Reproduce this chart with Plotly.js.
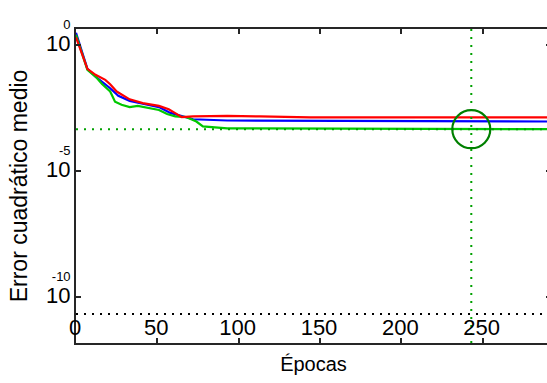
<!DOCTYPE html>
<html>
<head>
<meta charset="utf-8">
<script src="https://cdn.plot.ly/plotly-3.0.1.min.js"></script>
<style>
html,body{margin:0;padding:0;overflow:hidden;background:#fff;width:547px;height:383px;}
#chart{width:562px;height:383px;}
</style>
</head>
<body>
<div id="chart"></div>
<script>
// Training (blue)
const trainEpochs = [0, 7, 12, 21, 26, 33, 41, 51, 58, 65, 72, 93, 292];
const trainMSE    = [3.0, 0.112, 0.055, 0.019, 0.0095, 0.006, 0.0046, 0.0034, 0.002, 0.00145, 0.00112, 0.001, 0.00091];
// Validation (green)
const valEpochs = [0, 7, 12, 16, 21, 24, 28, 33, 38, 45, 51, 56, 61, 68, 74, 78, 93, 292];
const valMSE    = [2.5, 0.102, 0.055, 0.028, 0.0141, 0.0056, 0.0042, 0.0034, 0.0038, 0.0032, 0.0026, 0.0018, 0.00145, 0.00135, 0.00091, 0.00058, 0.00049, 0.00045];
// Test (red)
const testEpochs = [0, 7, 12, 18, 21, 25, 33, 41, 51, 57, 61, 65, 72, 93, 113, 144, 292];
const testMSE    = [2.0, 0.112, 0.065, 0.041, 0.0275, 0.0141, 0.0069, 0.0049, 0.0038, 0.0028, 0.00195, 0.00135, 0.00145, 0.00151, 0.00145, 0.00132, 0.00132];
// Best validation and goal
const bestEpoch = 243;
const bestMSE = 0.00045;
const goalMSE = 2.1e-11;
const xRange = [0, 292];
const yRangeLog = [-11.83, 0.63];
const yTickVals = [1e-10, 1e-5, 1];
const yTickExp = ['-10', '-5', '0'];
const xTickVals = [0, 50, 100, 150, 200, 250];

const traces = [
  {x: trainEpochs, y: trainMSE, mode: 'lines', line: {color: '#0000ff', width: 2.2}, hoverinfo: 'none'},
  {x: valEpochs, y: valMSE, mode: 'lines', line: {color: '#00c800', width: 2.2}, hoverinfo: 'none'},
  {x: testEpochs, y: testMSE, mode: 'lines', line: {color: '#ff0000', width: 2.2}, hoverinfo: 'none'},
  {x: xRange, y: [goalMSE, goalMSE], mode: 'lines', line: {color: '#000000', width: 2, dash: '2px,6px'}, hoverinfo: 'none'},
  {x: [xRange[0], xRange[1]], y: [bestMSE, bestMSE], mode: 'lines', line: {color: '#00a000', width: 2, dash: '2px,6px'}, hoverinfo: 'none'},
  {x: [bestEpoch, bestEpoch], y: [Math.pow(10, yRangeLog[0]), Math.pow(10, yRangeLog[1])], mode: 'lines', line: {color: '#00a000', width: 2, dash: '2px,6px'}, hoverinfo: 'none'},
  {x: [bestEpoch], y: [bestMSE], mode: 'markers', marker: {symbol: 'circle-open', size: 38, line: {color: '#008000', width: 2.2}, color: '#008000'}, hoverinfo: 'none'}
];

const layout = {
  width: 562, height: 383,
  margin: {l: 76, r: 11, t: 29, b: 40},
  paper_bgcolor: '#ffffff', plot_bgcolor: '#ffffff',
  showlegend: false,
  font: {family: 'Liberation Sans, Arial, sans-serif', color: '#000000'},
  xaxis: {
    range: xRange, tickvals: xTickVals, ticks: 'inside', ticklen: 5, tickwidth: 2, tickcolor: '#262626',
    ticklabelposition: 'outside', ticklabelstandoff: -36, ticklabelshift: -1,
    tickfont: {size: 22, color: '#000'},
    showline: true, linecolor: '#262626', linewidth: 2, mirror: 'ticks', showgrid: false, zeroline: false,
    automargin: false,
    title: {text: 'Épocas', font: {size: 20}, standoff: 18}
  },
  yaxis: {
    type: 'log', range: yRangeLog, tickvals: yTickVals,
    ticktext: yTickExp.map(e => '<span style="font-size:13px">' + e + '</span><br><span style="font-size:22px">10</span><br>&nbsp;'),
    ticks: 'inside', ticklen: 5, tickwidth: 2, tickcolor: '#262626',
    tickfont: {size: 17, color: '#000'},
    showline: true, linecolor: '#262626', linewidth: 2, mirror: 'ticks', showgrid: false, zeroline: false,
    automargin: false,
    title: {text: 'Error cuadrático medio', font: {size: 23}, standoff: 12}
  }
};

Plotly.newPlot('chart', traces, layout, {staticPlot: true, displayModeBar: false});
</script>
</body>
</html>
